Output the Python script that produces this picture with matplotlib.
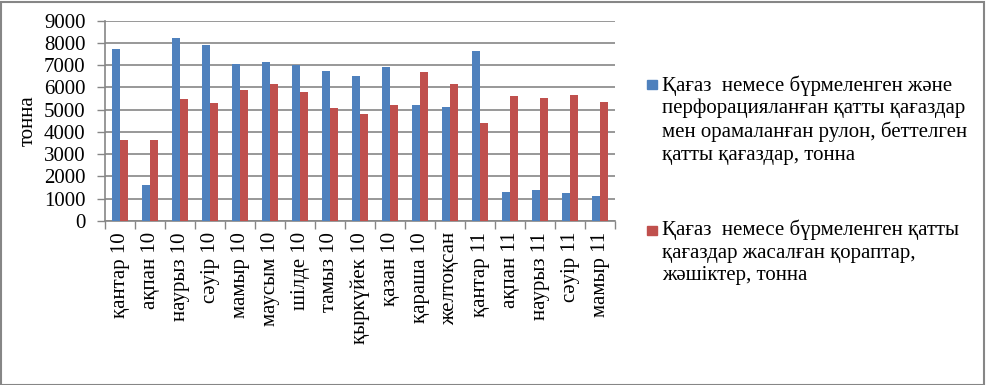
import matplotlib
matplotlib.use("Agg")
import matplotlib.pyplot as plt
import numpy as np
from matplotlib.patches import Rectangle

categories = ["қантар 10", "ақпан 10", "наурыз 10", "сәуір 10", "мамыр 10", "маусым 10",
              "шілде 10", "тамыз 10", "қыркүйек 10", "қазан 10", "қараша 10", "желтоқсан",
              "қантар 11", "ақпан 11", "наурыз 11", "сәуір 11", "мамыр 11"]
series1 = [7720, 1620, 8220, 7900, 7050, 7140, 6990, 6740, 6510, 6920, 5210, 5120,
           7640, 1300, 1390, 1260, 1120]
series2 = [3640, 3640, 5480, 5300, 5890, 6150, 5800, 5080, 4810, 5210, 6690, 6150,
           4400, 5620, 5530, 5660, 5350]
label1 = "Қағаз  немесе бүрмеленген және\nперфорацияланған қатты қағаздар\nмен орамаланған рулон, беттелген\nқатты қағаздар, тонна"
label2 = "Қағаз  немесе бүрмеленген қатты\nқағаздар жасалған қораптар,\nжәшіктер, тонна"
yticks = [0, 1000, 2000, 3000, 4000, 5000, 6000, 7000, 8000, 9000]

plt.rcParams['font.family'] = ['Liberation Serif', 'DejaVu Serif']
FS = 15
W, H = 986, 385
fig = plt.figure(figsize=(W / 100, H / 100), dpi=100)
ax = fig.add_axes([105 / W, 1 - 221 / H, 510 / W, (221 - 20.7) / H])

c1, c2 = "#4F81BD", "#C0504D"
grid_c = "#868686"
x = np.arange(len(categories))
bw = 0.28
ax.bar(x - bw / 2, series1, width=bw, color=c1, zorder=3, label=label1)
ax.bar(x + bw / 2, series2, width=bw, color=c2, zorder=3, label=label2)

ax.set_xlim(-0.5, len(categories) - 0.5)
ax.set_ylim(0, 9000)
ax.set_yticks(yticks)
ax.set_yticklabels([str(v) for v in yticks], fontsize=FS)
ax.yaxis.grid(True, color=grid_c, linewidth=1.2, zorder=0)
ax.set_axisbelow(True)
ax.tick_params(axis='y', length=6, width=1, color=grid_c, pad=8)

ax.set_xticks(x)
ax.set_xticklabels(categories, rotation=90, fontsize=FS, va='top', ha='center')
ax.set_xticks(np.arange(-0.5, len(categories), 1), minor=True)
ax.tick_params(axis='x', which='major', length=0, pad=8)
ax.tick_params(axis='x', which='minor', length=6, width=1, color=grid_c)

for s in ['top', 'right']:
    ax.spines[s].set_visible(False)
for s in ['left', 'bottom']:
    ax.spines[s].set_color(grid_c)
    ax.spines[s].set_linewidth(1.2)

ax.set_ylabel("тонна", fontsize=FS)
ax.yaxis.set_label_coords(-(105 - 38) / 510, 0.5)

# legend (manual)
fig.patches.append(Rectangle((647 / W, 1 - 89 / H), 10 / W, 9 / H, color=c1, transform=fig.transFigure))
fig.text(662 / W, 1 - 75 / H, label1, fontsize=FS, va='top', ha='left', linespacing=1.23)
fig.patches.append(Rectangle((647 / W, 1 - 235 / H), 10 / W, 9 / H, color=c2, transform=fig.transFigure))
fig.text(662 / W, 1 - 220 / H, label2, fontsize=FS, va='top', ha='left', linespacing=1.23)

# outer border
fig.patches.append(Rectangle((0.5 / W, 0.5 / H), (W - 2.5) / W, (H - 2.5) / H, fill=False,
                             edgecolor="#868686", linewidth=1.5, transform=fig.transFigure))

fig.savefig("out.png", dpi=100)
